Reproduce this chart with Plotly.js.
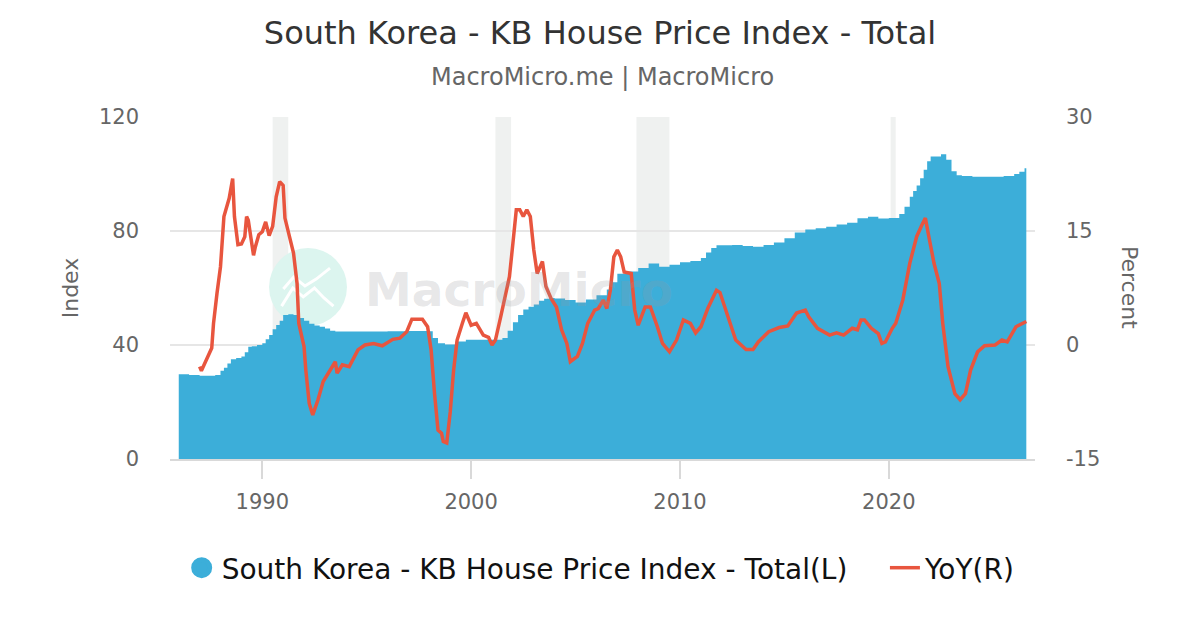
<!DOCTYPE html>
<html>
<head>
<meta charset="utf-8">
<script src="https://cdn.plot.ly/plotly-3.0.1.min.js"></script>
<style>
  html, body { margin: 0; padding: 0; background: #fff; }
  #chart { width: 1200px; height: 630px; }
</style>
</head>
<body>
<div id="chart"></div>
<script>
// ---- Data ----
const indexDates = ['1986-01','1986-07','1987-01','1987-07','1987-10','1988-01','1988-03','1988-05','1988-07','1988-10','1989-01','1989-03','1989-05','1989-07','1989-10','1990-01','1990-03','1990-05','1990-07','1990-09','1990-11','1991-01','1991-04','1991-07','1991-10','1992-01','1992-04','1992-07','1992-10','1993-01','1993-04','1993-07','1994-01','1995-01','1996-01','1997-01','1998-01','1998-03','1998-06','1998-10','1999-04','1999-10','2000-07','2001-01','2001-07','2001-10','2002-01','2002-04','2002-07','2002-10','2003-01','2003-04','2003-07','2003-10','2004-01','2004-07','2005-01','2005-07','2006-01','2006-07','2006-10','2007-01','2007-07','2008-01','2008-07','2009-01','2009-07','2010-01','2010-07','2011-01','2011-04','2011-07','2011-10','2012-07','2013-01','2013-07','2014-01','2014-07','2015-01','2015-07','2016-01','2016-07','2017-01','2017-07','2018-01','2018-07','2019-01','2019-07','2020-01','2020-07','2020-10','2021-01','2021-03','2021-05','2021-07','2021-09','2021-11','2022-01','2022-07','2022-10','2023-01','2023-04','2023-07','2024-01','2024-07','2025-01','2025-07','2026-01','2026-04','2026-07','2026-08'];
const indexValues = [29.7,29.5,29.2,29.2,29.5,31.0,32.0,33.5,35.0,35.4,36.0,37.5,39.4,39.6,40.0,40.6,42.0,43.5,45.5,47.0,48.5,50.5,50.8,50.5,49.5,48.5,47.5,46.8,46.4,45.8,45.0,44.7,44.7,44.7,44.8,44.9,44.8,42.5,40.6,40.2,41.2,41.8,41.8,41.8,42.5,45.0,48.0,50.5,52.5,53.4,54.2,55.5,56.2,56.5,56.3,55.8,54.9,56.0,57.5,59.5,62.0,65.0,65.8,67.0,68.6,67.5,68.2,69.0,69.5,70.5,72.5,74.0,75.0,75.1,74.7,74.5,75.1,76.0,77.5,79.5,80.5,81.0,81.5,82.3,82.9,84.5,85.0,84.4,84.6,86.0,88.5,92.0,94.0,96.0,98.5,101.5,104.5,106.1,106.9,105.0,101.0,99.6,99.3,99.0,99.0,99.0,99.3,100.0,100.8,102.0,102.0];

const yoyDates = ['1987-01','1987-02','1987-08','1987-09','1987-11','1988-01','1988-03','1988-06','1988-08','1988-09','1988-11','1989-01','1989-03','1989-04','1989-05','1989-08','1989-09','1989-11','1990-01','1990-03','1990-05','1990-07','1990-09','1990-11','1991-01','1991-02','1991-07','1991-09','1991-10','1992-01','1992-02','1992-04','1992-06','1992-09','1992-12','1993-03','1993-07','1993-08','1993-11','1994-03','1994-08','1994-12','1995-05','1995-10','1996-04','1996-08','1996-12','1997-03','1997-09','1997-12','1998-02','1998-04','1998-06','1998-08','1998-09','1998-11','1999-01','1999-03','1999-05','1999-08','1999-10','2000-01','2000-04','2000-08','2000-11','2001-01','2001-03','2001-06','2001-09','2001-11','2002-01','2002-03','2002-05','2002-07','2002-09','2002-11','2003-01','2003-03','2003-06','2003-08','2003-11','2004-02','2004-05','2004-08','2004-10','2005-02','2005-05','2005-08','2005-12','2006-02','2006-05','2006-07','2006-09','2006-11','2007-01','2007-03','2007-05','2007-09','2007-11','2008-01','2008-05','2008-08','2008-12','2009-03','2009-07','2009-11','2010-03','2010-07','2010-10','2011-01','2011-05','2011-10','2011-12','2012-05','2012-09','2013-03','2013-07','2013-10','2014-04','2014-10','2015-03','2015-08','2016-01','2016-03','2016-08','2017-03','2017-07','2017-11','2018-04','2018-07','2018-09','2018-11','2019-03','2019-07','2019-09','2019-11','2020-03','2020-05','2020-09','2021-01','2021-05','2021-08','2021-10','2021-12','2022-03','2022-06','2022-08','2022-11','2023-03','2023-06','2023-09','2023-12','2024-04','2024-08','2025-02','2025-06','2025-09','2026-02','2026-06','2026-08'];
const yoyValues = [-2.85,-3.4,-0.4,2.85,6.8,10.3,16.9,19.3,21.9,16.9,13.2,13.3,14.25,16.9,16.4,11.8,12.9,14.5,14.9,16.2,14.4,15.6,19.5,21.5,21.0,16.7,12.1,8.1,2.85,-0.2,-3.3,-7.7,-9.2,-7.2,-4.8,-3.7,-2.2,-3.7,-2.6,-2.85,-0.65,0.0,0.2,-0.1,0.75,0.9,1.75,3.4,3.4,2.4,-0.7,-6.4,-11.2,-11.6,-12.7,-12.9,-8.8,-3.3,0.65,2.85,4.25,2.6,2.85,1.3,1.0,0.0,0.65,3.7,7.2,9.0,13.4,17.8,17.8,16.9,17.8,16.9,12.5,9.4,11.0,7.7,6.1,5.0,2.0,0.2,-2.2,-1.5,0.2,2.85,4.6,4.8,5.9,4.8,7.2,11.6,12.5,11.6,9.6,9.4,4.6,2.6,5.0,5.0,2.4,0.2,-0.9,0.65,3.3,2.85,1.6,2.4,4.8,7.2,6.9,3.3,0.65,-0.6,-0.6,0.4,1.75,2.3,2.5,4.2,4.6,3.7,2.2,1.3,1.6,1.3,2.2,2.0,3.3,3.3,2.2,1.5,0.2,0.4,2.2,2.85,5.9,10.75,14.25,15.8,16.7,14.25,10.75,8.1,2.85,-2.85,-6.4,-7.2,-6.4,-3.3,-0.9,-0.1,0.0,0.65,0.4,2.4,2.85,3.1];

// US recession periods shaded in the background
const recessionStarts = ['1990-07-01','2001-03-01','2007-12-01','2020-02-01'];
const recessionEnds   = ['1991-03-31','2001-11-30','2009-06-30','2020-04-30'];

// Tick values / labels
const leftTicks = [0, 40, 80, 120];
const rightTicks = [-15, 0, 15, 30];
const rightTickLabels = ['-15', '0', '15', '30'];

const seriesNames = ['South Korea - KB House Price Index - Total(L)', 'YoY(R)'];
const blue = '#3caed9';
const red = '#e8553e';
const FONT = 'DejaVu Sans, Verdana, sans-serif';

const shapes = recessionStarts.map((s, i) => ({
  type: 'rect', xref: 'x', yref: 'paper', x0: s, x1: recessionEnds[i], y0: 0, y1: 1,
  fillcolor: '#eff1f0', line: {width: 0}, layer: 'below'
}));
// watermark logo circle
shapes.push({
  type: 'circle', xref: 'paper', yref: 'paper',
  x0: 0.1145, x1: 0.2046, y0: 0.389, y1: 0.617,
  fillcolor: '#dcf5ef', line: {width: 0}, layer: 'below'
});
// watermark logo zigzag
shapes.push({
  type: 'path', xref: 'paper', yref: 'paper', layer: 'below',
  path: 'M 0.129 0.447 L 0.142 0.500 L 0.154 0.474 L 0.167 0.500 L 0.178 0.471 L 0.189 0.447',
  line: {color: '#ffffff', width: 3}
});
shapes.push({
  type: 'path', xref: 'paper', yref: 'paper', layer: 'below',
  path: 'M 0.131 0.497 L 0.143 0.532 L 0.156 0.506 L 0.169 0.526 L 0.185 0.558',
  line: {color: '#ffffff', width: 3}
});

const traces = [
  {
    x: indexDates, y: indexValues, type: 'scatter', mode: 'lines',
    line: {width: 0, shape: 'hv', color: blue}, fill: 'tozeroy', fillcolor: blue,
    name: seriesNames[0], showlegend: false, yaxis: 'y'
  },
  {
    x: yoyDates, y: yoyValues, type: 'scatter', mode: 'lines',
    line: {width: 3.5, color: red}, name: seriesNames[1], yaxis: 'y2', legend: 'legend2'
  },
  {
    x: [null], y: [null], type: 'scatter', mode: 'markers',
    marker: {size: 16, color: blue, symbol: 'circle', line: {width: 5, color: blue}},
    name: seriesNames[0], yaxis: 'y', legend: 'legend'
  }
];

const legendFont = {family: FONT, size: 28, color: '#111111'};

const layout = {
  width: 1200, height: 630,
  margin: {l: 170, r: 165, t: 117, b: 171, pad: 0},
  paper_bgcolor: '#ffffff', plot_bgcolor: '#ffffff',
  font: {family: FONT, color: '#666666'},
  title: {
    text: 'South Korea - KB House Price Index - Total',
    font: {family: FONT, size: 32, color: '#333333'},
    x: 0.5, xref: 'container', xanchor: 'center',
    y: 0.948, yref: 'container', yanchor: 'middle'
  },
  xaxis: {
    type: 'date', range: ['1985-08-01', '2026-12-31'],
    tick0: '1990-01-01', dtick: 'M120', tickformat: '%Y',
    ticks: 'outside', ticklen: 18, tickwidth: 2, tickcolor: '#d9d9d9',
    showgrid: false, showline: true, linecolor: '#d9d9d9', linewidth: 2,
    zeroline: false, tickfont: {family: FONT, size: 21, color: '#666666'},
    ticklabelstandoff: 5
  },
  yaxis: {
    range: [0, 120], tickmode: 'array', tickvals: leftTicks,
    showgrid: true, gridcolor: '#e6e6e6', gridwidth: 1.5,
    zeroline: false, showline: false, ticks: '',
    tickfont: {family: FONT, size: 21, color: '#666666'},
    ticklabelstandoff: 30,
    title: {text: 'Index', font: {family: FONT, size: 22, color: '#666666'}, standoff: 14}
  },
  yaxis2: {
    range: [-15, 30], tickmode: 'array', tickvals: rightTicks, ticktext: rightTickLabels,
    overlaying: 'y', side: 'right',
    showgrid: false, zeroline: false, showline: false, ticks: '',
    tickfont: {family: FONT, size: 21, color: '#666666'},
    ticklabelstandoff: 30
  },
  shapes: shapes,
  annotations: [
    {
      text: 'MacroMicro.me | MacroMicro', xref: 'paper', yref: 'paper',
      x: 0.5, y: 1.117, xanchor: 'center', yanchor: 'middle', showarrow: false,
      font: {family: FONT, size: 24, color: '#666666'}
    },
    {
      text: 'Percent', xref: 'paper', yref: 'paper', x: 1.1098, y: 0.5,
      xanchor: 'center', yanchor: 'middle', textangle: 90, showarrow: false,
      font: {family: FONT, size: 22, color: '#666666'}
    },
    {
      text: '<b>MacroMicro</b>', xref: 'paper', yref: 'paper', x: 0.223, y: 0.497,
      xanchor: 'left', yanchor: 'middle', showarrow: false,
      font: {family: FONT, size: 47, color: 'rgba(150,152,158,0.24)'}
    }
  ],
  legend: {
    orientation: 'h', x: 0.0135, xanchor: 'left', y: -0.3187, yanchor: 'middle',
    font: legendFont, itemwidth: 30, bgcolor: 'rgba(0,0,0,0)'
  },
  legend2: {
    orientation: 'h', x: 0.8265, xanchor: 'left', y: -0.3187, yanchor: 'middle',
    font: legendFont, itemwidth: 30, bgcolor: 'rgba(0,0,0,0)'
  },
  showlegend: true
};

Plotly.newPlot('chart', traces, layout, {displayModeBar: false, staticPlot: true});
</script>
</body>
</html>
